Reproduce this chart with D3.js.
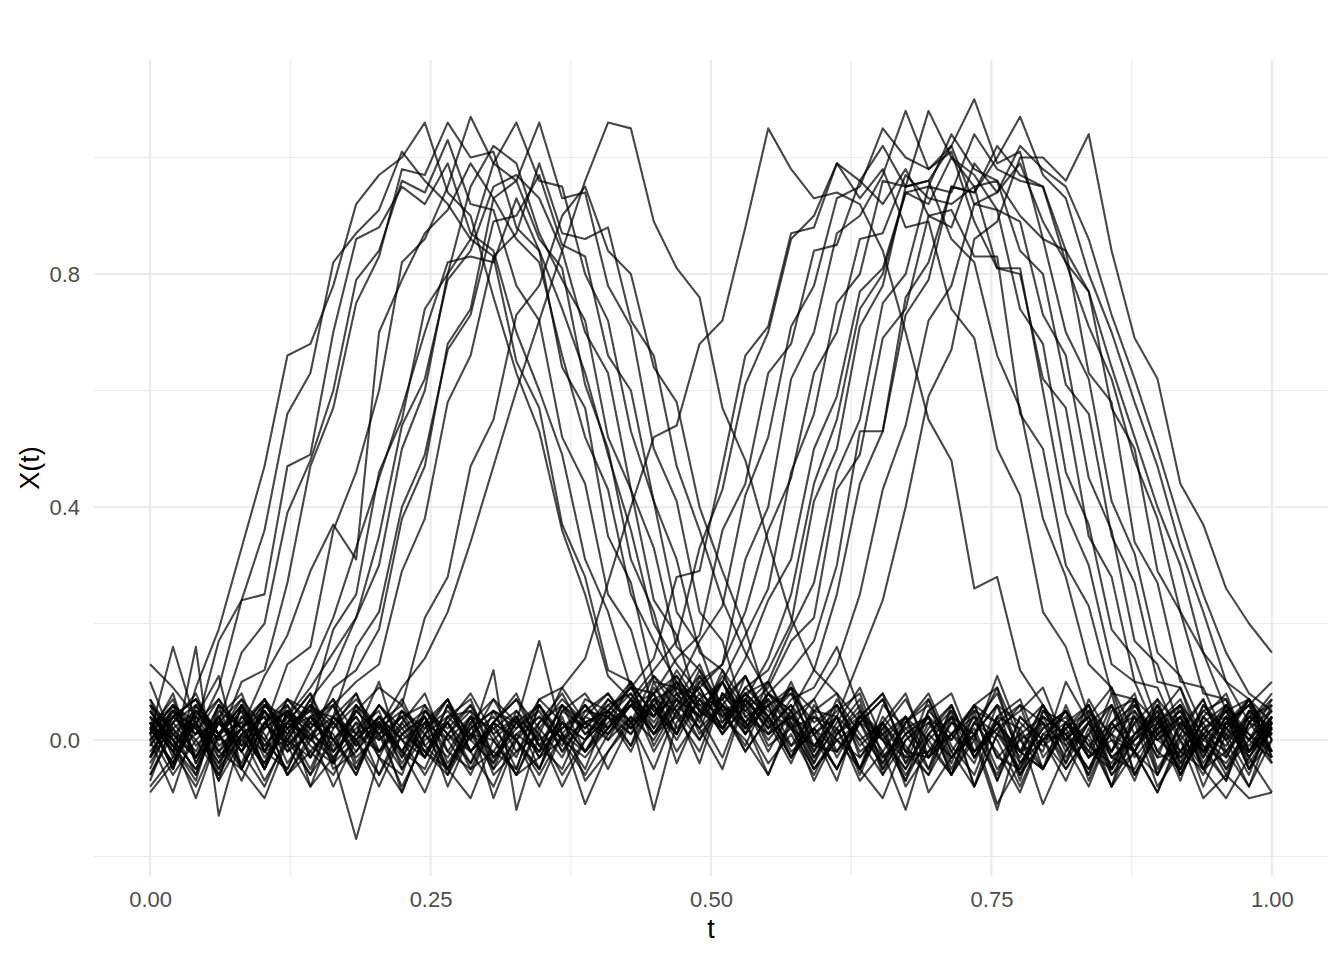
<!DOCTYPE html>
<html>
<head>
<meta charset="utf-8">
<script src="https://cdn.jsdelivr.net/npm/d3@7"></script>
<style>
  html, body { margin: 0; padding: 0; background: #fff; }
  svg text { font-family: "Liberation Sans", Arial, sans-serif; }
</style>
</head>
<body>
<div id="chart"></div>
<script>
// evaluation grid (50 points on [0, 1])
const tValues = [
  0, 0.0204, 0.0408, 0.0612, 0.0816, 0.1020, 0.1224, 0.1429, 0.1633, 0.1837,
  0.2041, 0.2245, 0.2449, 0.2653, 0.2857, 0.3061, 0.3265, 0.3469, 0.3673, 0.3878,
  0.4082, 0.4286, 0.4490, 0.4694, 0.4898, 0.5102, 0.5306, 0.5510, 0.5714, 0.5918,
  0.6122, 0.6327, 0.6531, 0.6735, 0.6939, 0.7143, 0.7347, 0.7551, 0.7755, 0.7959,
  0.8163, 0.8367, 0.8571, 0.8776, 0.8980, 0.9184, 0.9388, 0.9592, 0.9796, 1
];

// curves with a bump in the first half
const firstPeakCurves = [
  [0.04,-0.05,0.09,0.19,0.33,0.47,0.66,0.68,0.78,0.92,
   0.97,1.00,1.06,0.94,0.90,0.76,0.63,0.53,0.36,0.25,
   0.11,0.07,-0.02,0.05,-0.04,0.08,0.03,-0.06,0.04,0.01,
   -0.07,0.05,0.00,-0.03,0.07,-0.02,-0.08,0.04,0.02,-0.05,
   0.06,-0.03,0.01,0.07,-0.06,0.03,-0.01,-0.07,0.05,0.02],
  [-0.03,0.06,0.02,0.17,0.24,0.36,0.56,0.63,0.82,0.87,
   0.91,1.01,0.96,0.92,0.86,0.83,0.65,0.57,0.37,0.28,
   0.12,0.10,-0.01,0.06,0.02,-0.05,0.07,0.03,0.09,-0.02,
   0.04,-0.06,0.03,0.08,-0.03,0.01,0.05,-0.07,0.02,0.06,
   -0.04,0.03,-0.08,0.05,0.00,0.04,-0.05,0.02,0.07,-0.03],
  [0.07,-0.02,0.01,0.09,0.24,0.25,0.47,0.49,0.70,0.86,
   0.88,0.95,0.92,0.99,0.87,0.84,0.70,0.60,0.49,0.31,
   0.22,0.09,0.08,-0.04,0.05,0.10,0.01,0.06,-0.03,0.04,
   0.02,0.07,-0.05,0.01,0.04,-0.06,0.03,0.08,-0.02,0.00,
   0.05,-0.07,0.02,0.04,-0.03,0.06,0.01,-0.05,0.03,0.08],
  [0.01,0.08,-0.04,0.03,0.15,0.20,0.39,0.48,0.60,0.79,
   0.84,0.96,0.94,1.03,0.92,0.91,0.78,0.72,0.52,0.44,
   0.25,0.19,0.05,0.07,0.00,0.06,0.11,0.03,-0.04,0.05,
   0.08,-0.03,0.02,-0.07,0.05,0.01,-0.04,0.06,0.03,-0.01,
   0.02,-0.06,0.05,0.07,-0.02,-0.05,0.04,0.00,-0.08,0.03],
  [-0.06,0.02,0.05,0.00,0.10,0.12,0.27,0.47,0.57,0.75,
   0.83,0.98,0.97,1.06,1.00,1.01,0.88,0.84,0.64,0.57,
   0.35,0.27,0.10,0.09,0.04,-0.03,0.07,0.02,0.10,0.01,
   -0.05,0.03,0.07,-0.02,-0.06,0.04,0.01,0.09,-0.04,0.02,
   0.05,-0.02,0.08,-0.06,0.01,0.04,-0.03,0.06,0.00,0.07],
  [0.05,-0.01,-0.07,0.06,0.02,0.11,0.18,0.29,0.37,0.31,
   0.70,0.79,0.87,0.91,0.99,0.93,0.86,0.82,0.66,0.52,
   0.43,0.25,0.17,0.10,0.07,0.01,0.06,-0.02,0.05,-0.04,
   0.03,0.09,0.00,-0.05,0.02,0.06,-0.03,0.04,-0.07,0.05,
   0.00,0.04,-0.02,0.07,0.03,-0.06,0.02,-0.01,0.05,-0.04],
  [0.03,-0.05,0.04,0.01,0.07,0.02,0.13,0.16,0.36,0.46,
   0.60,0.82,0.86,0.95,1.07,0.99,0.96,0.86,0.81,0.61,
   0.50,0.31,0.22,0.08,0.09,0.02,0.08,0.04,-0.03,0.06,
   0.01,0.05,-0.04,0.03,0.08,-0.01,-0.06,0.04,0.07,-0.03,
   0.02,0.06,-0.05,0.01,0.04,0.09,-0.02,-0.07,0.03,0.01],
  [-0.04,0.03,0.08,-0.01,0.02,0.06,0.04,0.12,0.21,0.33,
   0.45,0.57,0.70,0.82,0.83,0.82,0.93,0.84,0.74,0.63,
   0.49,0.36,0.20,0.13,0.08,0.05,-0.02,0.04,0.08,-0.01,
   0.04,-0.05,0.06,0.02,-0.03,0.05,-0.08,0.01,0.06,0.03,
   -0.04,0.07,0.00,-0.02,0.05,-0.06,0.02,0.04,0.00,-0.03],
  [0.06,0.01,-0.03,0.04,-0.02,0.03,0.07,0.05,0.19,0.25,
   0.46,0.55,0.74,0.80,0.95,1.02,0.99,0.87,0.79,0.72,
   0.52,0.43,0.24,0.18,0.05,0.07,0.01,0.10,0.03,-0.04,
   0.06,0.00,-0.06,0.03,0.07,-0.02,0.04,0.01,-0.05,0.05,
   0.03,-0.03,0.06,-0.01,0.02,-0.07,0.04,0.08,-0.02,0.01],
  [0.00,0.05,0.02,-0.05,0.06,-0.01,0.04,0.09,0.15,0.21,
   0.35,0.54,0.62,0.79,0.84,0.95,0.97,0.93,0.84,0.70,
   0.63,0.43,0.33,0.16,0.12,0.06,0.03,0.07,-0.01,0.05,
   -0.03,0.04,0.08,-0.04,0.01,0.05,-0.02,0.03,0.06,-0.05,
   0.02,0.05,-0.03,0.00,0.07,-0.04,0.01,0.03,0.06,-0.02],
  [0.03,-0.02,0.06,0.01,-0.04,0.05,0.00,0.07,0.12,0.21,
   0.30,0.50,0.60,0.80,0.86,0.99,1.06,0.96,0.95,0.80,
   0.72,0.53,0.41,0.22,0.16,0.05,0.07,0.02,0.06,-0.03,
   0.04,-0.05,0.02,0.07,-0.01,-0.06,0.05,0.03,-0.03,0.06,
   -0.02,0.05,0.01,-0.07,0.03,0.06,-0.02,0.04,-0.04,0.02],
  [-0.03,0.02,-0.06,0.04,0.08,-0.02,0.03,0.05,0.04,0.16,
   0.22,0.40,0.49,0.67,0.73,0.89,0.90,0.97,0.85,0.83,
   0.66,0.60,0.41,0.31,0.15,0.12,0.02,0.08,0.05,-0.02,
   0.07,0.01,-0.04,0.03,0.06,-0.03,0.02,-0.07,0.04,0.00,
   0.05,-0.01,0.03,0.08,-0.05,0.02,-0.02,0.06,0.01,-0.04],
  [0.02,0.07,-0.03,0.01,0.05,-0.05,0.03,0.00,0.09,0.12,
   0.19,0.38,0.47,0.68,0.74,0.93,0.96,1.06,0.93,0.94,
   0.78,0.71,0.50,0.41,0.22,0.17,0.04,0.06,0.09,0.01,
   0.05,0.08,-0.03,0.02,0.04,-0.04,0.06,0.09,0.00,-0.05,
   0.03,0.06,-0.02,0.04,-0.06,0.01,0.07,-0.03,0.05,0.02],
  [0.05,0.00,0.03,-0.04,0.02,0.07,-0.01,0.04,0.06,0.10,
   0.13,0.29,0.38,0.58,0.66,0.83,0.87,0.99,0.87,0.86,
   0.88,0.72,0.66,0.47,0.36,0.24,0.15,0.08,0.04,0.07,
   -0.02,0.04,0.08,0.01,-0.05,0.06,-0.03,0.02,0.05,0.09,
   -0.01,0.03,0.06,-0.06,0.02,0.05,-0.02,0.01,0.07,0.00],
  [0.02,-0.04,0.05,0.01,0.06,-0.02,0.07,0.03,0.00,0.05,
   0.09,0.06,0.21,0.28,0.47,0.55,0.73,0.78,0.90,0.95,
   0.84,0.80,0.64,0.58,0.40,0.29,0.19,0.06,0.08,0.03,
   0.06,-0.01,0.03,-0.04,0.05,0.08,-0.02,0.02,-0.06,0.04,
   0.01,-0.05,0.03,0.06,0.00,-0.03,0.05,0.02,-0.01,0.04],
  [-0.01,0.05,-0.03,0.06,0.02,-0.05,0.04,0.00,0.03,0.07,
   0.02,0.09,0.14,0.22,0.34,0.47,0.60,0.72,0.84,0.96,
   1.06,1.05,0.89,0.81,0.76,0.57,0.48,0.34,0.21,0.12,
   0.08,0.03,0.07,-0.02,0.04,0.00,0.06,0.03,-0.04,0.02,
   0.05,-0.01,-0.04,0.03,0.07,0.02,-0.02,0.04,-0.05,0.03]
];

// curves with a bump in the second half
const secondPeakCurves = [
  [0.03,-0.05,0.06,0.01,-0.07,0.02,0.05,-0.01,-0.04,0.06,
   0.02,-0.02,0.04,-0.06,0.03,0.07,0.00,0.07,0.09,0.14,
   0.27,0.40,0.52,0.54,0.68,0.72,0.88,1.05,0.98,0.93,
   0.94,0.92,0.84,0.70,0.55,0.48,0.26,0.28,0.12,0.06,
   0.00,0.06,-0.03,-0.05,0.03,0.07,-0.01,-0.04,0.02,0.05],
  [0.01,0.06,-0.04,0.03,-0.01,0.07,0.02,-0.05,0.04,0.00,
   -0.06,0.03,0.08,-0.02,0.04,-0.04,0.05,0.01,0.09,0.03,
   0.05,0.09,0.14,0.28,0.29,0.47,0.66,0.71,0.87,0.88,
   0.99,0.93,0.98,0.88,0.89,0.74,0.69,0.50,0.42,0.22,
   0.16,0.04,0.09,-0.03,0.02,0.06,-0.05,0.03,0.00,0.05],
  [-0.03,0.04,0.01,0.07,0.02,-0.04,0.03,0.08,-0.02,0.02,
   0.05,-0.05,0.01,0.04,0.07,-0.03,0.02,0.05,-0.02,0.04,
   0.02,0.07,0.12,0.17,0.33,0.43,0.61,0.70,0.86,0.90,
   0.99,0.96,1.02,0.95,0.96,0.86,0.82,0.66,0.57,0.38,
   0.28,0.13,0.09,0.01,0.05,-0.04,0.06,0.02,-0.03,0.04],
  [0.05,-0.01,0.03,-0.06,0.04,0.00,0.07,0.02,-0.04,0.05,
   0.01,0.04,-0.03,0.06,-0.02,0.03,0.08,-0.01,0.02,0.06,
   0.01,0.06,0.08,0.14,0.18,0.36,0.44,0.63,0.68,0.84,
   0.85,0.96,0.92,0.98,0.90,0.91,0.83,0.83,0.56,0.50,
   0.30,0.23,0.08,0.07,-0.02,0.04,-0.05,0.03,0.07,0.00],
  [0.02,-0.04,0.05,0.00,0.03,0.07,-0.02,0.04,0.01,-0.06,
   0.03,0.06,-0.01,-0.05,0.04,0.02,-0.03,0.07,0.03,0.00,
   0.06,0.02,0.07,0.09,0.17,0.23,0.42,0.52,0.71,0.78,
   0.93,0.95,1.05,1.00,0.98,1.01,0.89,0.81,0.81,0.60,
   0.39,0.30,0.13,0.10,0.01,0.05,-0.04,0.02,0.06,-0.03],
  [-0.01,0.04,0.07,-0.02,0.02,-0.05,0.05,0.01,0.04,0.08,
   -0.02,0.02,0.05,0.00,-0.06,0.03,0.07,0.02,-0.03,0.05,
   0.04,0.09,0.05,0.01,0.10,0.13,0.31,0.40,0.62,0.70,
   0.87,0.90,0.97,1.08,0.98,1.02,0.92,0.91,0.74,0.68,
   0.46,0.37,0.19,0.14,0.03,0.06,-0.03,0.04,-0.05,0.02],
  [0.03,-0.01,-0.06,0.05,0.02,0.07,0.00,-0.03,0.04,-0.01,
   0.06,0.01,0.04,-0.05,0.02,0.05,-0.02,0.03,0.08,0.01,
   0.04,-0.01,0.07,0.05,0.09,0.13,0.22,0.36,0.45,0.63,
   0.70,0.86,0.87,0.97,0.93,0.92,0.95,0.81,0.80,0.62,
   0.57,0.35,0.28,0.10,0.09,0.00,0.05,0.07,-0.02,0.03],
  [0.01,0.05,0.02,-0.04,0.06,-0.01,0.03,0.08,0.00,0.04,
   -0.03,0.05,0.01,0.07,-0.02,0.03,0.00,-0.05,0.05,0.08,
   0.02,0.06,0.11,0.07,0.04,0.10,0.18,0.26,0.46,0.56,
   0.75,0.80,0.96,0.95,1.08,1.00,0.97,0.91,0.89,0.73,
   0.66,0.45,0.36,0.17,0.13,0.02,0.07,-0.02,0.04,0.01],
  [0.06,0.02,-0.03,0.04,-0.02,0.05,0.01,0.07,-0.04,0.00,
   0.04,-0.02,0.06,0.01,0.05,-0.05,0.00,0.04,-0.01,0.07,
   0.05,0.10,0.04,0.12,0.06,0.07,0.14,0.24,0.31,0.50,
   0.59,0.77,0.81,0.94,0.92,1.00,0.95,0.96,0.84,0.80,
   0.61,0.56,0.35,0.27,0.10,0.09,0.00,0.05,-0.02,0.04],
  [0.00,0.04,0.07,0.01,0.03,-0.05,0.05,0.02,0.06,-0.01,
   0.03,-0.04,0.02,0.05,0.00,0.07,0.03,-0.02,0.02,0.05,
   0.08,0.03,0.11,0.05,0.09,0.02,0.07,0.14,0.25,0.44,
   0.55,0.74,0.80,0.94,0.95,1.04,0.98,0.96,0.90,0.86,
   0.70,0.62,0.41,0.32,0.15,0.11,0.02,0.05,-0.03,0.03],
  [0.02,-0.04,0.03,0.07,-0.01,0.02,0.05,-0.03,0.04,0.00,
   0.06,0.02,-0.03,0.04,0.05,0.01,-0.06,0.02,0.07,0.03,
   0.00,0.07,0.04,0.10,0.05,0.02,0.09,0.12,0.20,0.41,
   0.50,0.71,0.78,0.95,0.96,1.02,1.10,0.99,1.01,0.86,
   0.84,0.63,0.58,0.34,0.27,0.10,0.09,0.00,0.04,0.06],
  [-0.03,0.05,0.01,0.03,0.07,-0.02,0.00,0.06,0.02,0.08,
   0.00,0.04,0.06,-0.04,0.02,0.05,0.03,-0.02,0.06,0.01,
   0.05,0.01,0.09,0.04,0.12,0.03,0.08,0.10,0.19,0.27,
   0.46,0.55,0.75,0.80,0.95,0.94,1.04,0.98,0.96,0.95,
   0.82,0.77,0.57,0.50,0.29,0.22,0.08,0.07,-0.02,0.04],
  [0.04,0.00,-0.05,0.03,-0.02,0.06,0.02,0.05,-0.03,0.01,
   -0.02,0.05,0.02,0.07,0.00,-0.04,0.03,0.06,0.01,-0.02,
   0.03,0.06,0.01,0.08,0.04,0.11,0.05,0.09,0.17,0.21,
   0.43,0.49,0.69,0.74,0.90,0.88,0.99,0.94,0.99,0.89,
   0.82,0.71,0.62,0.48,0.38,0.22,0.15,0.05,0.07,-0.02],
  [0.01,0.06,0.03,-0.03,0.02,0.05,-0.01,0.03,0.07,-0.04,
   0.02,0.05,-0.02,0.03,0.08,0.01,0.04,-0.03,0.03,0.00,
   0.07,0.03,0.06,0.01,0.10,0.06,0.02,0.08,0.12,0.17,
   0.30,0.53,0.53,0.76,0.82,0.95,0.94,1.02,0.97,0.95,
   0.84,0.77,0.64,0.52,0.40,0.30,0.15,0.10,0.03,0.06],
  [0.03,-0.02,0.05,0.01,-0.05,0.06,0.02,0.04,-0.01,0.05,
   0.01,0.07,-0.01,0.03,-0.04,0.05,0.02,0.06,-0.02,0.03,
   0.05,0.09,0.02,0.07,0.04,0.10,0.03,0.08,0.05,0.12,
   0.25,0.44,0.53,0.73,0.79,0.95,0.94,1.00,1.07,0.97,
   0.93,0.80,0.70,0.58,0.47,0.33,0.22,0.10,0.07,0.03],
  [0.00,0.04,0.07,0.01,0.05,-0.03,0.02,0.06,0.03,-0.02,
   0.04,0.00,0.03,0.07,-0.02,0.02,0.05,-0.01,0.06,0.02,
   0.07,0.03,0.08,0.11,0.05,0.03,0.09,0.05,0.02,0.07,
   0.13,0.25,0.43,0.54,0.72,0.78,0.92,0.94,1.02,0.98,
   0.95,0.86,0.73,0.62,0.50,0.37,0.25,0.15,0.08,0.05],
  [0.02,0.06,-0.01,0.03,0.00,0.05,-0.04,0.02,0.07,0.01,
   0.03,-0.03,0.05,0.02,0.06,0.00,0.04,-0.05,0.05,0.02,
   0.06,0.08,0.03,0.09,0.06,0.02,0.08,0.04,0.09,0.05,
   0.04,0.14,0.24,0.40,0.59,0.67,0.86,0.89,1.00,1.00,
   0.96,1.04,0.84,0.69,0.62,0.44,0.37,0.26,0.20,0.15]
];

// curves without a bump
const flatCurves = [
  [0.13,0.09,0.04,0.11,-0.05,0.03,-0.01,-0.08,0.02,0.06,
   -0.03,-0.06,0.05,0.01,-0.04,0.03,0.07,-0.01,-0.05,0.04,
   0.08,0.02,0.06,0.10,0.03,0.12,0.06,0.00,0.05,-0.03,
   0.02,-0.05,0.04,-0.01,-0.06,0.01,0.06,-0.03,-0.05,0.03,
   -0.01,-0.08,0.02,0.05,-0.03,-0.02,0.03,0.06,-0.05,0.00],
  [-0.09,-0.04,0.03,-0.07,0.00,-0.04,0.05,-0.08,-0.03,-0.17,
   -0.03,-0.09,0.01,-0.05,-0.10,0.00,-0.06,-0.03,0.04,-0.07,
   -0.02,0.03,-0.05,0.05,0.00,0.08,0.03,-0.04,0.01,-0.06,
   0.02,-0.07,-0.02,0.04,-0.09,-0.03,0.01,-0.11,-0.04,0.00,
   -0.07,0.02,-0.06,-0.02,-0.09,0.01,-0.05,-0.10,-0.03,-0.09],
  [0.01,0.16,0.03,-0.07,0.06,-0.02,-0.05,0.03,0.00,-0.06,
   0.04,-0.02,-0.09,0.01,0.06,-0.03,0.03,0.17,0.01,-0.05,
   0.05,-0.01,0.10,0.02,0.07,0.01,0.11,0.04,-0.03,0.02,
   -0.05,0.04,0.00,-0.07,0.01,0.06,-0.03,0.03,-0.02,0.04,
   0.01,-0.06,0.03,-0.02,0.06,-0.05,0.00,0.05,-0.03,0.02],
  [0.06,-0.03,0.16,-0.13,0.01,-0.07,0.00,0.06,-0.05,-0.02,
   0.03,-0.09,0.01,-0.03,0.04,-0.06,-0.02,0.01,-0.08,0.00,
   0.04,-0.02,0.07,0.01,0.11,0.05,-0.01,0.08,0.02,-0.05,
   0.01,0.06,-0.06,0.00,0.04,-0.05,0.03,-0.02,-0.09,0.01,
   0.00,0.04,-0.05,0.03,-0.08,-0.02,0.06,0.01,-0.06,0.04],
  [-0.07,0.03,-0.02,0.06,-0.05,-0.10,0.00,-0.06,0.04,0.01,
   0.10,-0.03,0.03,-0.08,0.01,-0.02,-0.05,0.06,0.00,-0.06,
   0.01,0.07,0.02,0.10,0.01,0.06,-0.02,0.04,-0.03,0.02,
   -0.02,0.03,-0.05,0.04,0.00,-0.06,0.01,0.06,-0.02,-0.05,
   0.03,0.00,-0.08,0.01,0.04,-0.03,0.01,-0.06,0.03,-0.02],
  [0.00,-0.09,0.03,-0.02,0.04,0.01,-0.06,0.00,0.06,-0.05,
   0.03,-0.02,-0.05,0.04,0.00,0.12,-0.12,0.01,-0.06,0.00,
   0.04,0.08,0.01,0.06,0.11,0.04,0.07,-0.01,0.02,-0.05,
   0.00,-0.03,0.03,-0.08,-0.02,0.01,0.04,-0.05,0.00,0.03,
   -0.05,0.01,0.06,-0.02,-0.06,0.03,0.00,-0.03,0.04,0.01],
  [0.03,-0.02,-0.08,0.01,0.06,0.00,-0.05,0.04,-0.02,0.03,
   -0.06,0.01,-0.02,-0.05,0.03,-0.10,0.00,-0.08,0.01,-0.11,
   -0.02,0.04,0.00,0.07,0.02,0.10,0.04,0.01,0.07,0.09,
   0.16,0.05,0.01,-0.06,0.00,0.04,-0.03,0.03,-0.02,0.06,
   0.00,-0.05,0.03,-0.02,0.04,-0.06,0.01,0.06,-0.02,0.03],
  [-0.05,0.04,0.00,-0.06,0.01,-0.02,0.06,-0.03,0.03,0.00,
   -0.08,0.01,0.04,-0.02,-0.05,0.03,0.00,-0.06,0.01,0.06,
   0.00,0.04,-0.12,0.03,0.08,0.01,0.06,0.10,0.02,-0.01,
   0.04,-0.05,-0.10,0.00,0.03,-0.03,0.01,0.06,-0.06,0.00,
   0.03,-0.02,-0.05,0.04,0.00,0.03,-0.08,0.01,-0.02,0.06],
  [0.04,0.00,-0.05,0.03,-0.02,0.06,0.01,-0.06,0.00,0.04,
   -0.02,0.03,-0.03,0.06,0.01,-0.05,0.04,0.00,0.03,-0.02,
   0.05,0.02,0.08,0.01,0.07,0.04,0.00,-0.06,0.03,-0.07,
   0.01,0.04,-0.02,-0.12,0.01,-0.03,0.03,0.00,-0.08,0.01,
   0.04,-0.03,0.01,-0.02,0.06,0.00,-0.06,0.03,0.01,-0.02],
  [-0.02,0.03,0.06,-0.03,0.01,0.04,-0.06,0.01,-0.02,0.06,
   0.01,-0.05,0.03,0.00,0.04,-0.03,0.01,-0.02,0.06,0.03,
   0.01,0.06,0.04,0.11,0.05,0.02,0.08,0.04,-0.01,0.02,
   0.06,-0.02,0.01,0.04,-0.05,0.03,0.00,0.11,0.01,-0.02,
   0.10,0.03,-0.03,0.01,0.06,-0.02,0.03,-0.05,0.00,0.04],
  [0.01,-0.06,0.00,0.04,-0.05,0.03,-0.02,0.01,-0.08,0.00,
   0.04,0.00,-0.06,0.01,-0.02,0.03,-0.05,0.06,0.00,-0.03,
   0.02,0.07,0.01,0.04,-0.02,0.08,0.05,0.01,0.04,-0.05,
   0.00,0.03,-0.03,0.01,0.04,-0.06,0.00,-0.12,0.01,-0.11,
   -0.02,0.03,-0.05,0.00,0.04,-0.06,0.01,-0.02,-0.08,0.00],
  [-0.06,0.01,0.04,-0.02,-0.05,0.03,0.06,0.00,-0.03,0.03,
   0.00,0.04,-0.02,-0.06,0.01,0.04,0.00,-0.05,0.03,-0.02,
   0.04,0.01,0.06,0.00,0.07,0.10,0.02,0.06,-0.02,0.01,
   -0.05,0.03,0.00,0.04,-0.03,0.01,-0.02,0.03,-0.06,0.00,
   -0.05,0.01,-0.08,-0.02,-0.09,0.00,-0.10,-0.06,-0.10,-0.09],
  [0.07,0.01,-0.03,0.03,-0.02,-0.08,0.01,0.06,0.00,-0.05,
   0.03,-0.02,0.04,-0.05,0.01,0.00,-0.06,0.03,0.06,-0.02,
   0.02,0.06,0.01,0.07,0.13,0.04,0.08,0.01,0.04,-0.01,
   -0.02,0.04,0.01,-0.05,0.03,0.00,0.06,-0.03,0.01,0.04,
   -0.03,0.03,-0.02,0.06,0.01,-0.05,0.04,0.00,0.07,0.01],
  [-0.08,-0.03,0.03,-0.05,0.01,0.04,-0.06,-0.02,0.03,-0.03,
   0.01,-0.08,0.00,0.03,-0.05,-0.02,0.04,-0.03,0.00,0.03,
   -0.05,0.03,0.06,-0.02,0.04,0.07,0.11,0.02,0.06,0.01,
   0.04,0.00,0.03,-0.03,-0.02,0.04,-0.08,0.01,-0.02,-0.05,
   0.03,-0.03,0.00,-0.06,0.01,0.04,-0.05,-0.02,0.03,0.07],
  [0.10,0.00,-0.10,0.01,0.06,-0.05,0.03,-0.02,-0.06,0.01,
   0.06,0.00,-0.03,0.03,-0.02,-0.08,0.01,0.04,0.00,0.06,
   0.02,0.10,0.04,0.08,0.02,0.06,0.01,0.07,0.02,0.04,
   0.00,-0.05,0.03,-0.02,-0.03,0.03,0.01,-0.06,0.04,0.00,
   0.01,0.04,-0.06,0.00,0.03,-0.02,-0.05,0.03,0.06,0.10]
];

const xTickValues = [0, 0.25, 0.5, 0.75, 1];
const xTickLabels = ["0.00", "0.25", "0.50", "0.75", "1.00"];
const xMinorValues = [0.125, 0.375, 0.625, 0.875];
const yTickValues = [0, 0.4, 0.8];
const yTickLabels = ["0.0", "0.4", "0.8"];
const yMinorValues = [-0.2, 0.2, 0.6, 1.0];

const width = 1344, height = 960;
const panel = { left: 94, right: 1328, top: 60, bottom: 876 };

const svg = d3.select('#chart')
    .append('svg')
    .attr('width', width)
    .attr('height', height);

svg.append('rect').attr('width', width).attr('height', height).attr('fill', '#fff');

const x = d3.scaleLinear().domain([-0.05, 1.05]).range([panel.left, panel.right]);
const y = d3.scaleLinear().domain([-0.2335, 1.1674]).range([panel.bottom, panel.top]);

// grid
const grid = svg.append('g');
grid.selectAll('line.xminor').data(xMinorValues).join('line')
    .attr('x1', d => x(d)).attr('x2', d => x(d))
    .attr('y1', panel.top).attr('y2', panel.bottom)
    .attr('stroke', '#ebebeb').attr('stroke-width', 1.1);
grid.selectAll('line.yminor').data(yMinorValues).join('line')
    .attr('y1', d => y(d)).attr('y2', d => y(d))
    .attr('x1', panel.left).attr('x2', panel.right)
    .attr('stroke', '#ebebeb').attr('stroke-width', 1.1);
grid.selectAll('line.xmajor').data(xTickValues).join('line')
    .attr('x1', d => x(d)).attr('x2', d => x(d))
    .attr('y1', panel.top).attr('y2', panel.bottom)
    .attr('stroke', '#ebebeb').attr('stroke-width', 2.2);
grid.selectAll('line.ymajor').data(yTickValues).join('line')
    .attr('y1', d => y(d)).attr('y2', d => y(d))
    .attr('x1', panel.left).attr('x2', panel.right)
    .attr('stroke', '#ebebeb').attr('stroke-width', 2.2);

// curves
const curves = [...firstPeakCurves, ...secondPeakCurves, ...flatCurves];
const line = d3.line()
    .x((d, i) => x(tValues[i]))
    .y(d => y(d));

svg.append('g').selectAll('path')
    .data(curves)
    .join('path')
    .attr('d', line)
    .attr('fill', 'none')
    .attr('stroke', '#000')
    .attr('stroke-opacity', 0.72)
    .attr('stroke-width', 2.1)
    .attr('stroke-linejoin', 'round');

// axes
const xAxis = d3.axisBottom(x)
    .tickValues(xTickValues)
    .tickFormat((d, i) => xTickLabels[i])
    .tickSize(0).tickPadding(15);
const gx = svg.append('g').attr('transform', `translate(0,${panel.bottom})`).call(xAxis);

const yAxis = d3.axisLeft(y)
    .tickValues(yTickValues)
    .tickFormat((d, i) => yTickLabels[i])
    .tickSize(0).tickPadding(14);
const gy = svg.append('g').attr('transform', `translate(${panel.left},0)`).call(yAxis);

[gx, gy].forEach(g => {
    g.select('.domain').remove();
    g.selectAll('text')
        .attr('fill', '#4d4d4d')
        .style('font-size', '22px')
        .style('font-family', '"Liberation Sans", Arial, sans-serif');
});

// axis titles
svg.append('text')
    .attr('x', (panel.left + panel.right) / 2)
    .attr('y', 938)
    .attr('text-anchor', 'middle')
    .style('font-size', '27px')
    .attr('fill', '#000')
    .text('t');

svg.append('text')
    .attr('transform', `translate(39,${(panel.top + panel.bottom) / 2}) rotate(-90)`)
    .attr('text-anchor', 'middle')
    .style('font-size', '27px')
    .attr('fill', '#000')
    .text('X(t)');
</script>
</body>
</html>
